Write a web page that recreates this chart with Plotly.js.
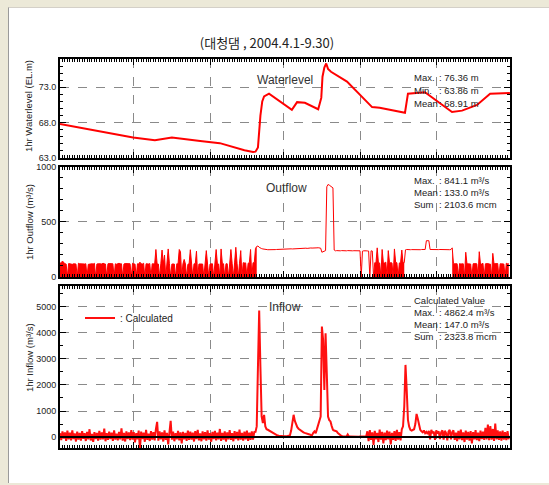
<!DOCTYPE html>
<html><head><meta charset="utf-8">
<script src="https://cdn.plot.ly/plotly-3.0.1.min.js"></script>
<style>
html,body{margin:0;padding:0;background:#ECE9D8;width:549px;height:485px;overflow:hidden}
#wrap{position:absolute;left:8px;top:7px;width:541px;height:475px;background:#fff;border-left:1px solid #9a9a9a;border-top:1px solid #d4d0c8}
#chart{width:540px;height:474px}
</style></head><body><div id="wrap"><div id="chart"></div></div>
<script>
// ---- data ----
const chartTitle = '(대청댐 , 2004.4.1-9.30)';
const monthStarts = ['2004-04-01','2004-05-01','2004-06-01','2004-07-01','2004-08-01','2004-09-01','2004-10-01'];
const monthMids = ['2004-04-16','2004-05-16 12:00','2004-06-16','2004-07-16 12:00','2004-08-16 12:00','2004-09-16'];
const monthLabels = ['APR','MAY','JUN','JUL','AUG','SEP'];
const yTitles = ['1hr Waterlevel (EL.m)', '1hr Outflow (m³/s)', '1hr Inflow (m³/s)'];
const panelNames = ['Waterlevel', 'Outflow', 'Inflow'];

const wlTimes = ['2004-04-01','2004-04-17 07:00','2004-04-30 17:00','2004-05-09 14:00','2004-05-16 12:00','2004-05-28','2004-06-05','2004-06-15','2004-06-18 12:00','2004-06-19 12:00','2004-06-20 12:00','2004-06-21 12:00','2004-06-22 06:00','2004-06-23','2004-06-25','2004-07-04 07:00','2004-07-06 10:00','2004-07-09 14:00','2004-07-15','2004-07-16 06:00','2004-07-16 18:00','2004-07-17 12:00','2004-07-18 06:00','2004-07-19','2004-07-20 05:00','2004-07-26 17:00','2004-08-05 22:00','2004-08-09','2004-08-19 07:00','2004-08-20 12:00','2004-08-27 10:00','2004-09-07 10:00','2004-09-11 12:00','2004-09-17 14:00','2004-09-22 22:00','2004-09-30 23:00'];
const waterLevel = [67.8,66.8,65.9,65.5,65.9,65.4,65.1,64.1,63.86,63.9,64.5,69.0,71.0,71.7,72.1,69.8,70.9,70.8,69.9,71.5,74.5,75.8,76.36,75.6,75.2,73.8,70.2,70.1,69.4,72.1,72.3,69.5,69.7,70.5,72.1,72.2];

// 12-hourly series starting 2004-04-01 00:00
const seriesStart = '2004-04-01T00:00:00Z';
const outflow = [
125,130,145,128,120,118,0,122,120,118,
115,120,122,118,0,125,120,118,122,120,
118,120,0,115,118,122,120,118,124,0,
118,120,122,120,118,125,120,118,0,120,
122,122,118,120,0,120,116,118,125,120,
120,0,118,122,120,122,118,120,0,125,
118,118,0,120,118,135,120,118,125,0,
120,118,118,122,0,120,120,118,250,118,
118,0,120,245,118,200,0,118,255,120,
0,118,120,118,0,120,118,250,230,0,
120,160,118,0,115,120,248,118,0,120,
118,235,0,118,120,118,118,0,120,240,
118,0,118,118,120,0,118,250,120,118,
0,255,125,120,0,120,120,0,118,250,
125,0,128,270,125,0,125,240,0,130,
128,128,0,125,130,250,0,130,128,260,
278,282,270,262,258,255,252,250,249,248,
248,247,248,250,250,249,250,251,250,252,
252,253,252,254,253,255,254,255,256,255,
256,258,257,258,259,260,258,262,260,261,
262,260,263,262,264,263,265,264,266,265,
266,265,262,225,232,236,240,820,841,835,
828,820,810,245,238,240,238,240,238,240,
238,240,239,238,240,238,239,240,238,239,
238,240,238,236,238,0,235,238,240,238,
237,236,0,238,236,0,130,128,265,125,
128,0,250,130,128,135,0,240,130,130,
128,0,255,132,130,0,128,128,245,130,
130,247,250,248,247,248,249,248,247,248,
249,248,249,248,250,249,248,250,330,332,
330,250,249,248,249,250,249,248,249,250,
249,248,250,249,248,250,249,248,250,265,
125,120,122,120,0,122,118,120,120,0,
225,120,120,118,118,0,120,122,120,120,
0,230,118,118,125,0,120,122,122,118,
118,0,215,120,120,118,122,0,120,120,
118,118,0,125,120,120];
// index ranges (12-h steps) where the gates were cycling, drawn as a filled band
const gatePeriods = [[0,160],[255,280],[319,365]];

const inflow = [
150,-120,220,-60,180,-150,250,-90,170,-130,
260,-80,140,-170,210,-100,160,-140,230,-70,
150,-150,200,-90,300,-130,120,-180,190,-80,
160,-140,240,-100,180,-90,320,-160,150,-110,
210,-80,170,-150,260,-100,130,-130,200,-90,
330,-140,160,-170,220,-80,180,-120,270,-100,
190,-200,150,-90,250,-450,210,-80,170,-180,
280,-110,130,-150,230,-100,190,-130,300,585,
-140,220,-90,180,-170,260,-110,160,-280,200,
620,-100,210,-160,150,-90,240,-130,180,-240,
200,-90,160,-150,250,-110,210,-100,170,-170,
230,-80,280,-130,140,-160,220,-90,190,-140,
260,-100,150,-180,200,-80,240,-130,170,-90,
310,-150,160,-100,220,-170,180,-90,270,-110,
150,-160,230,-80,200,-130,290,-100,160,-140,
210,-90,250,-150,170,-110,220,-100,190,200,
410,2700,4862,2700,790,540,855,410,300,280,
250,220,180,150,120,100,80,60,50,40,
30,40,30,35,30,40,50,60,250,600,
855,620,470,380,320,280,240,200,180,160,
150,140,120,100,80,70,160,220,150,300,
540,600,790,4240,3730,1810,3980,2450,790,650,
600,420,280,250,230,217,150,100,60,40,
30,20,25,20,100,20,25,20,15,20,
20,25,20,15,20,20,25,20,30,20,
220,-160,270,-110,180,-300,240,-90,160,-190,
290,-100,200,-240,170,-120,250,-90,210,-280,
160,-110,230,-150,280,-100,190,-130,300,410,
1175,2770,1800,660,400,280,250,280,300,500,
890,700,510,280,220,180,250,150,200,120,
240,-90,280,150,210,-110,260,140,220,-80,
180,260,-100,240,150,-130,210,280,-90,190,
260,-110,170,-160,240,-90,290,-120,180,-190,
250,-100,200,-140,230,-240,190,-90,270,-120,
170,-160,250,-80,210,-110,350,-90,480,-120,
420,-100,310,-150,520,-90,260,-110,220,-140,
250,-100,190,-120,230,-90];

const wlStats = [['Max.', ': 76.36 m'], ['Min.', ': 63.86 m'], ['Mean', ': 68.91 m']];
const outStats = [['Max.', ': 841.1 m³/s'], ['Mean', ': 133.0 m³/s'], ['Sum', ': 2103.6 mcm']];
const inHeader = 'Calculated Value';
const inStats = [['Max.', ': 4862.4 m³/s'], ['Mean', ': 147.0 m³/s'], ['Sum', ': 2323.8 mcm']];

// ---- build ----
const t0 = Date.parse(seriesStart);
function times(n){ const a=[]; for(let i=0;i<n;i++){ a.push(new Date(t0+i*43200000).toISOString().slice(0,16).replace('T',' ')); } return a; }
const tOut = times(outflow.length), tIn = times(inflow.length);
const inGateOpen = i => gatePeriods.some(p => i>p[0] && i<p[1]);
const outLine = outflow.map((v,i) => inGateOpen(i) ? null : v);

const FONT = 'Liberation Sans, Arial, Noto Sans CJK KR, sans-serif';
const xRange = ['2004-04-01','2004-10-01'];
function xax(anchor){
  return {type:'date', anchor:anchor, range:xRange, fixedrange:true,
    tickmode:'array', tickvals:monthStarts, ticks:'inside', ticklen:6, tickcolor:'#000', tickwidth:1,
    showticklabels:false, showgrid:true, gridcolor:'#8a8a8a', griddash:'dash', gridwidth:1,
    showline:true, linecolor:'#000', linewidth:2, mirror:'ticks', zeroline:false,
    minor:{dtick:86400000, tick0:'2004-04-01', ticks:'inside', ticklen:3, tickcolor:'#000', tickwidth:1, showgrid:false}};
}
function yax(domain, range, tickvals, ticktext, minorDtick){
  return {domain:domain, range:range, fixedrange:true, tickmode:'array', tickvals:tickvals, ticktext:ticktext,
    ticks:'inside', ticklen:6, tickcolor:'#000', showgrid:true, gridcolor:'#8a8a8a', griddash:'dash', gridwidth:1,
    showline:true, linecolor:'#000', linewidth:2, mirror:'ticks', zeroline:false, tickfont:{size:9, color:'#222'},
    minor:{dtick:minorDtick, tick0:0, ticks:'inside', ticklen:3, tickcolor:'#000', showgrid:false}};
}

const traces = [
  {type:'scatter', mode:'lines', x:wlTimes, y:waterLevel, xaxis:'x', yaxis:'y', line:{color:'#ff0000', width:2}, showlegend:false, hoverinfo:'skip'}
];
gatePeriods.forEach(p => traces.push({type:'scatter', mode:'lines', x:tOut.slice(p[0], p[1]+1), y:outflow.slice(p[0], p[1]+1), xaxis:'x2', yaxis:'y2',
  line:{color:'#ff0000', width:1}, fill:'tozeroy', fillcolor:'#ff0000', showlegend:false, hoverinfo:'skip'}));
traces.push({type:'scatter', mode:'lines', x:tOut, y:outLine, xaxis:'x2', yaxis:'y2', line:{color:'#ff0000', width:1}, connectgaps:false, showlegend:false, hoverinfo:'skip'});
traces.push({type:'scatter', mode:'lines', x:tIn, y:inflow, xaxis:'x3', yaxis:'y3', line:{color:'#ff1010', width:2}, name:': Calculated', showlegend:true, hoverinfo:'skip'});

const L=51, PW=450, B=440, PH=389;
const px = v => (v-9-L)/PW;       // page x -> paper x
const py = v => (B-(v-8))/PH;     // page y -> paper y
const ann = [];
function txt(xp, yp, s){ ann.push({xref:'paper', yref:'paper', x:px(xp), y:py(yp), text:s, showarrow:false, xanchor:'left', yanchor:'middle', font:{size:9.5, color:'#222', family:FONT}}); }
function ctr(xp, yp, s){ ann.push({xref:'paper', yref:'paper', x:px(xp), y:py(yp), text:s, showarrow:false, xanchor:'center', yanchor:'middle', font:{size:12, color:'#333', family:FONT}}); }
function ytl(yp, s){ ann.push({xref:'paper', yref:'paper', x:px(29), y:py(yp), text:s, textangle:-90, showarrow:false, xanchor:'center', yanchor:'middle', font:{size:9.5, color:'#222', family:FONT}}); }
ctr(285, 80, panelNames[0]);
ctr(286, 188, panelNames[1]);
ctr(285, 307, panelNames[2]);
ytl(106, yTitles[0]); ytl(222, yTitles[1]); ytl(358, yTitles[2]);
[77, 90, 103].forEach((y,i)=>{ txt(412, y, wlStats[i][0]); txt(437, y, wlStats[i][1]); });
[180, 192, 204.5].forEach((y,i)=>{ txt(412, y, outStats[i][0]); txt(437, y, outStats[i][1]); });
txt(412, 300, inHeader);
[312, 324, 336.5].forEach((y,i)=>{ txt(412, y, inStats[i][0]); txt(437, y, inStats[i][1]); });

const layout = {
  width:540, height:474, margin:{l:L, r:39, t:51, b:34},
  paper_bgcolor:'#fff', plot_bgcolor:'#fff',
  font:{family:FONT, size:10, color:'#222'},
  title:{text:chartTitle, x:(267-9)/540, xanchor:'center', y:1-35/474, yanchor:'middle', font:{size:13, color:'#222', family:'Noto Sans CJK KR, sans-serif'}},
  xaxis:xax('y'), xaxis2:xax('y2'), xaxis3:xax('y3'),
  xaxis4:{type:'date', overlaying:'x3', anchor:'y3', side:'bottom', range:xRange, fixedrange:true,
    tickmode:'array', tickvals:monthMids, ticktext:monthLabels, ticks:'', showgrid:false, showline:false, zeroline:false,
    tickfont:{size:9.5, color:'#222'}},
  yaxis:yax([0.7455,1], [63,77], [63,68,73], ['63.0','68.0','73.0'], 1),
  yaxis2:yax([0.4396,0.7224], [0,1000], [0,500,1000], ['0','500','1000'], 100),
  yaxis3:Object.assign(yax([0,0.4165], [-420,5800], [0,1000,2000,3000,4000,5000], ['0','1000','2000','3000','4000','5000'], 500),
    {zeroline:true, zerolinecolor:'#000', zerolinewidth:2, zerolinelayer:'above traces'}),
  showlegend:true,
  legend:{x:px(80), y:py(318), xanchor:'left', yanchor:'middle', bgcolor:'rgba(0,0,0,0)', borderwidth:0, font:{size:10, color:'#222'}, itemwidth:30, tracegroupgap:0},
  annotations:ann
};
Plotly.newPlot('chart', traces, layout, {staticPlot:true, displayModeBar:false});
</script></body></html>
